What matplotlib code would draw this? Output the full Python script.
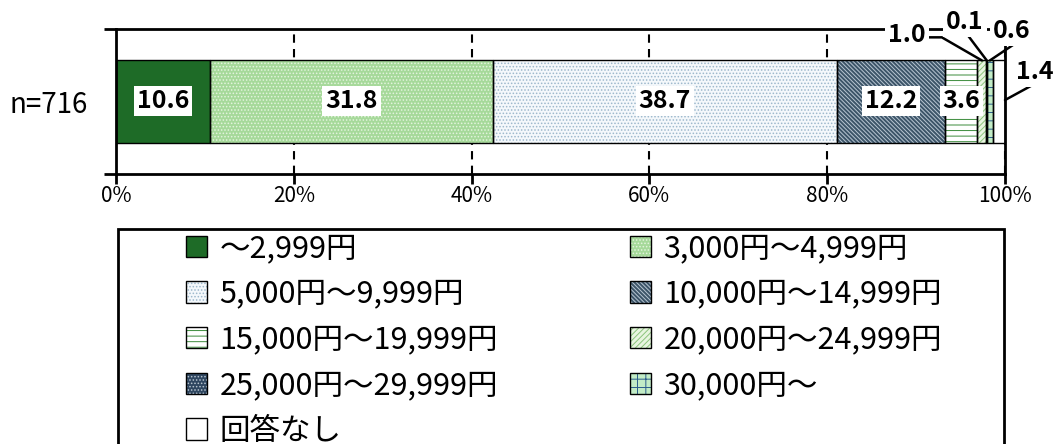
import matplotlib.pyplot as plt
from matplotlib.patches import Rectangle

plt.rcParams['font.family'] = ['Noto Sans CJK JP', 'DejaVu Sans']
plt.rcParams['hatch.linewidth'] = 0.7

# data
group = 'n=716'
categories = ['～2,999円', '3,000円～4,999円', '5,000円～9,999円', '10,000円～14,999円',
              '15,000円～19,999円', '20,000円～24,999円', '25,000円～29,999円',
              '30,000円～', '回答なし']
values = [10.6, 31.8, 38.7, 12.2, 3.6, 1.0, 0.1, 0.6, 1.4]
xticks = [0, 20, 40, 60, 80, 100]

# styles
fill_colors = ['#1e6b27', '#a6d99a', '#f4f8fb', '#3c5468', '#ffffff',
               '#e8f5e0', '#2e4660', '#c2ecc6', '#ffffff']
hatch_colors = ['#1e6b27', '#e4f4de', '#9db8cc', '#b8c6d2', '#3b8b3b',
                '#8cc47c', '#b8c4d0', '#2b5d8c', '#ffffff']
hatches = ['', '.....', '.....', '\\' * 8, '---', '//////', '.....', '++', '']

W, H = 1060, 444
fig = plt.figure(figsize=(W / 100, H / 100), dpi=100)
ax = fig.add_axes([116 / W, 1 - 174 / H, 889 / W, 145 / H])

bar_h = 0.566
handles = []
lefts = []
left = 0
for i, v in enumerate(values):
    f = ax.barh(0, v, left=left, height=bar_h, color=fill_colors[i], linewidth=0, zorder=2)
    h = ax.barh(0, v, left=left, height=bar_h, color='none', edgecolor=hatch_colors[i],
                linewidth=0, hatch=hatches[i], zorder=3)
    o = ax.barh(0, v, left=left, height=bar_h, color='none', edgecolor='black',
                linewidth=1, zorder=4)
    handles.append((f[0], h[0], o[0]))
    lefts.append(left)
    left += v

box = dict(boxstyle='square,pad=0.12', fc='white', ec='none')

# labels inside the bar
for i, v in enumerate(values):
    if v >= 3:
        ax.text(lefts[i] + v / 2, 0, f'{v:.1f}', ha='center', va='center',
                fontsize=18, fontweight='bold', bbox=box, zorder=6)

# small segments with leader lines
bar_top = bar_h / 2
callouts = {
    5: dict(xytext=(89.0, 0.459), relpos=(1.0, 0.4), cs='angle,angleA=0,angleB=-30,rad=0'),
    6: dict(xytext=(95.5, 0.548), relpos=(0.55, 0.0), cs='arc3'),
    7: dict(xytext=(100.8, 0.486), relpos=(0.6, 0.0), cs='arc3'),
    8: dict(xytext=(103.3, 0.203), relpos=(0.5, 0.0), cs='arc3'),
}
for i, c in callouts.items():
    if i == 8:
        xy = (lefts[i] + values[i], 0.01)
    else:
        xy = (lefts[i] + values[i] / 2, bar_top)
    ax.annotate(f'{values[i]:.1f}', xy=xy, xytext=c['xytext'], ha='center', va='center',
                fontsize=18, fontweight='bold', bbox=box, zorder=7, annotation_clip=False,
                arrowprops=dict(arrowstyle='-', color='black', lw=1.8, shrinkA=0, shrinkB=0,
                                relpos=c['relpos'], connectionstyle=c['cs'], patchA=None))

ax.set_xlim(0, 100)
ax.set_ylim(-0.5, 0.5)
ax.set_xticks(xticks)
ax.set_xticklabels([f'{t}%' for t in xticks], fontsize=15)
ax.set_yticks([0])
ax.set_yticklabels([group], fontsize=20)
ax.set_yticks([-0.5, 0.5], minor=True)
ax.tick_params(axis='y', which='major', length=0, pad=20)
ax.tick_params(axis='y', which='minor', length=9, width=2, direction='out')
ax.tick_params(axis='x', length=7, width=2, direction='out', pad=1)
for s in ax.spines.values():
    s.set_linewidth(2)
ax.set_axisbelow(True)
ax.xaxis.grid(True, color='black', linestyle=(0, (4, 3)), linewidth=1.5)

# legend (two columns, row-wise order)
fig.add_artist(Rectangle((118 / W, -0.2), (1004 - 118) / W, 1 - 229 / H + 0.2,
                         transform=fig.transFigure, fill=False, lw=2, ec='black'))
leg_kw = dict(loc='upper left', frameon=False, fontsize=22, handlelength=0.69,
              handleheight=0.69, handletextpad=0.4, labelspacing=0.48,
              borderpad=0, borderaxespad=0)
col1 = list(range(0, len(values), 2))
col2 = list(range(1, len(values), 2))
fig.legend([handles[i] for i in col1], [categories[i] for i in col1],
           bbox_to_anchor=(186 / W, 1 - 233 / H), **leg_kw)
fig.legend([handles[i] for i in col2], [categories[i] for i in col2],
           bbox_to_anchor=(630 / W, 1 - 233 / H), **leg_kw)

fig.savefig('out.png', dpi=100)
